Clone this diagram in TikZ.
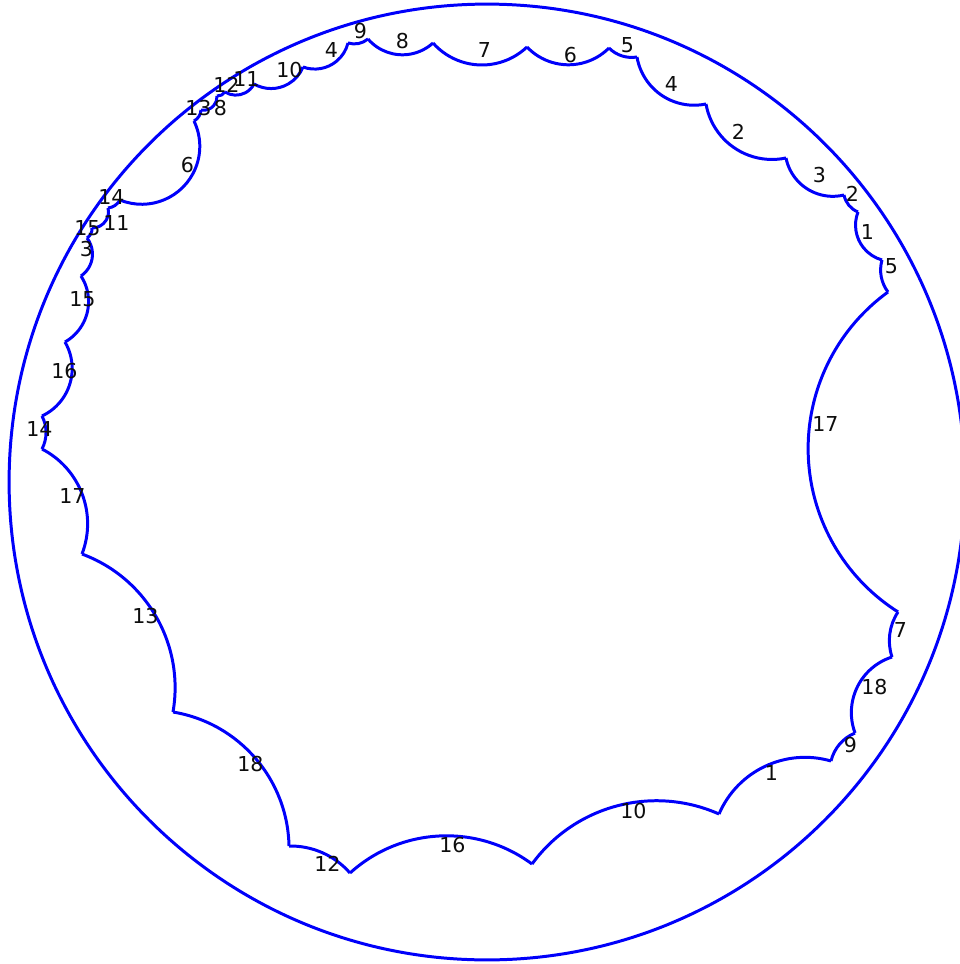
\documentclass[tikz,border=0pt]{standalone}
\usepackage{fontspec}
\setmainfont{DejaVu Sans}
\definecolor{sideblue}{RGB}{0,0,250}
% geodesic of the disk between two points given in pixels
\newcommand{\sidearc}[4]{%
  \edef\ux{\fpeval{(#1-487)/478}}\edef\uy{\fpeval{(482-#2)/478}}%
  \edef\vx{\fpeval{(#3-487)/478}}\edef\vy{\fpeval{(482-#4)/478}}%
  \edef\ua{\fpeval{(\ux*\ux+\uy*\uy+1)/2}}\edef\va{\fpeval{(\vx*\vx+\vy*\vy+1)/2}}%
  \edef\det{\fpeval{\ux*\vy-\uy*\vx}}%
  \edef\cx{\fpeval{(\ua*\vy-\va*\uy)/\det}}\edef\cy{\fpeval{(\ux*\va-\vx*\ua)/\det}}%
  \edef\rad{\fpeval{9.56*sqrt(\cx*\cx+\cy*\cy-1)}}%
  \edef\sta{\fpeval{atand(\uy-\cy,\ux-\cx)}}\edef\eda{\fpeval{atand(\vy-\cy,\vx-\cx)}}%
  \edef\dlt{\fpeval{\eda-\sta}}%
  \edef\dlt{\fpeval{\dlt>180 ? \dlt-360 : (\dlt<-180 ? \dlt+360 : \dlt)}}%
  \draw[side] (#1,#2) arc[start angle=\sta, delta angle=\dlt, radius=\rad cm];%
}
\begin{document}
\begin{tikzpicture}[
  x=0.02cm, y=-0.02cm,
  side/.style={sideblue, line width=1.7pt, line join=miter},
  sidelabel/.style={inner sep=0pt, xshift=0.2pt, text=black!95,
    font=\fontsize{11.7}{13}\selectfont}
]
  \useasboundingbox (0,0) rectangle (960,964);
  \draw[side] (487,482) circle[radius=9.56cm];
  % sides of the polygon, clockwise from the long one on the right
  \foreach \xa/\ya/\xb/\yb in {
    888/292/898/612, 898/612/892/657, 892/657/855/733, 855/733/831/761,
    831/761/719/814, 719/814/532/864, 532/864/350/873, 350/873/289/846,
    289/846/173/712, 173/712/82/554, 82/554/42/449, 42/449/42/416,
    42/416/65/342, 65/342/81/276, 81/276/87/238, 87/238/92/228,
    92/228/108/208, 108/208/120/200, 120/200/194/121, 194/121/201/110,
    201/110/217/96, 217/96/225/92, 225/92/254/84, 254/84/303/67,
    303/67/348/43, 348/43/368/39, 368/39/433/43, 433/43/527/47,
    527/47/609/48, 609/48/637/57, 637/57/706/104, 706/104/786/158,
    786/158/844/195, 844/195/858/212, 858/212/882/260, 882/260/888/292}
    {\sidearc{\xa}{\ya}{\xb}{\yb}}
  % side labels
  \foreach \x/\y/\lab [count=\i] in {
    825/424/17, 900/630/7, 874/687/18, 850/745/9, 771/773/1, 633/811/10,
    452/845/16, 327/864/12, 250/764/18, 145/616/13, 72/496/17, 39/429/14,
    64/371/16, 82/299/15, 86/249/3, 87/228/15, 116/223/11, 111/197/14,
    187/165/6, 198/108/13, 220/108/8, 226/85/12, 246/79/11, 289/70/10,
    331/50/4, 360/31/9, 402/41/8, 484/50/7, 570/55/6, 627/45/5,
    671/84/4, 738/132/2, 819/175/3, 852/194/2, 867/232/1, 891/266/5}
    \node[sidelabel] (lab\i) at (\x,\y) {\lab};
\end{tikzpicture}
\end{document}
